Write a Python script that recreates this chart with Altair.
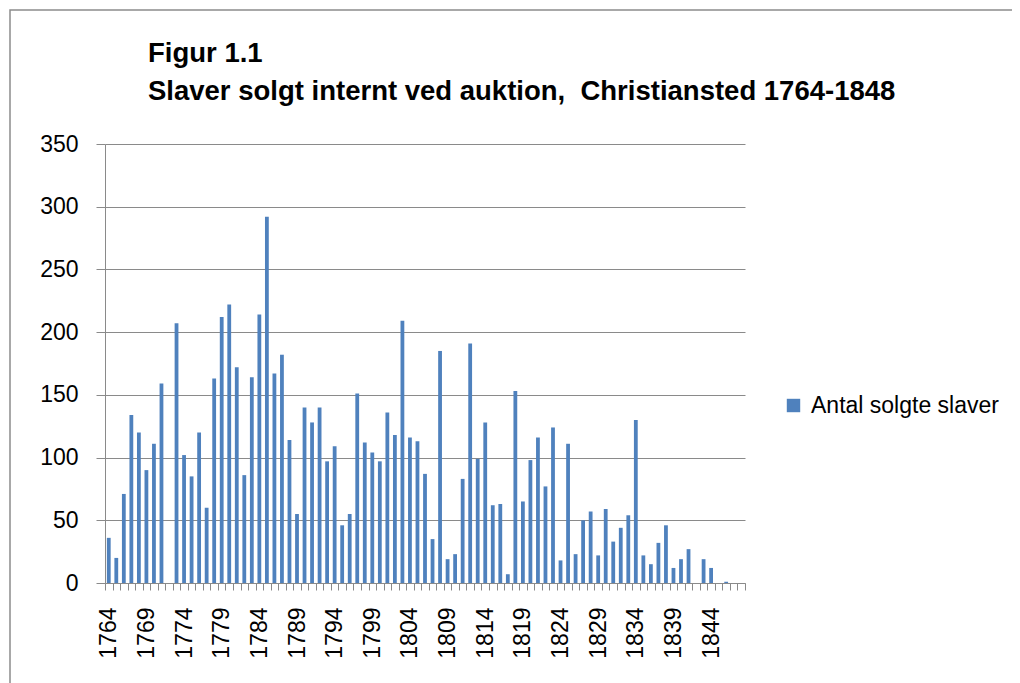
import altair as alt
import pandas as pd

years = list(range(1764, 1849))
values = [
    36, 20, 71, 134, 120, 90, 111, 159, 0, 207,      # 1764-1773
    102, 85, 120, 60, 163, 212, 222, 172, 86, 164,   # 1774-1783
    214, 292, 167, 182, 114, 55, 140, 128, 140, 97,  # 1784-1793
    109, 46, 55, 151, 112, 104, 97, 136, 118, 209,   # 1794-1803
    116, 113, 87, 35, 185, 19, 23, 83, 191, 99,      # 1804-1813
    128, 62, 63, 7, 153, 65, 98, 116, 77, 124,       # 1814-1823
    18, 111, 23, 50, 57, 22, 59, 33, 44, 54,         # 1824-1833
    130, 22, 15, 32, 46, 12, 19, 27, 0, 19,          # 1834-1843
    12, 0, 1, 0, 0,                                  # 1844-1848
]
series_name = "Antal solgte slaver"
title_line1 = "Figur 1.1"
title_line2 = "Slaver solgt internt ved auktion,\u00a0 Christiansted 1764-1848"
y_ticks = [0, 50, 100, 150, 200, 250, 300, 350]

df = pd.DataFrame({"year": years, "value": values, "series": series_name})

AXIS_FONT = "Liberation Sans"
GRID = "#8a8a8a"

bars = alt.Chart(df).mark_bar(size=3.8).encode(
    x=alt.X(
        "year:O",
        scale=alt.Scale(domain=years, paddingInner=0, paddingOuter=0),
        axis=alt.Axis(
            title=None,
            tickBand="extent",
            labelAngle=270,
            labelExpr="(toNumber(datum.value) - 1764) % 5 == 0 ? datum.value : ''",
            labelFont=AXIS_FONT,
            labelFontSize=23,
            labelColor="#000000",
            labelPadding=17,
            tickSize=7,
            tickColor=GRID,
            domainColor=GRID,
            labelOverlap=False,
            grid=False,
        ),
    ),
    y=alt.Y(
        "value:Q",
        scale=alt.Scale(domain=[0, 350], nice=False),
        axis=alt.Axis(
            title=None,
            values=y_ticks,
            labelFont=AXIS_FONT,
            labelFontSize=23,
            labelColor="#000000",
            labelPadding=18,
            tickSize=9,
            tickColor=GRID,
            domainColor=GRID,
            gridColor=GRID,
            gridWidth=1,
        ),
    ),
    color=alt.Color(
        "series:N",
        scale=alt.Scale(range=["#4F81BD"]),
        legend=alt.Legend(
            title=None,
            orient="none",
            legendX=677,
            legendY=250,
            symbolType="square",
            symbolSize=180,
            symbolStrokeWidth=0,
            labelFont=AXIS_FONT,
            labelFontSize=23,
            labelColor="#000000",
            labelOffset=6,
            labelLimit=400,
        ),
    ),
)

border = alt.Chart(pd.DataFrame({"a": [0]})).mark_rect(
    fill=None, stroke="#8c8c8c", strokeWidth=1.5, clip=False
).encode(
    x=alt.value(-95), x2=alt.value(910), y=alt.value(-134), y2=alt.value(570)
)

title_style = dict(
    align="left", baseline="alphabetic", font="Liberation Sans",
    fontSize=27.5, fontWeight="bold", color="#000000", clip=False,
)
t1 = alt.Chart(pd.DataFrame({"t": [title_line1]})).mark_text(**title_style).encode(
    x=alt.value(43), y=alt.value(-82), text="t:N"
)
t2 = alt.Chart(pd.DataFrame({"t": [title_line2]})).mark_text(**title_style).encode(
    x=alt.value(43), y=alt.value(-44), text="t:N"
)

chart = alt.layer(border, t1, t2, bars).properties(
    width=640,
    height=439,
    autosize=alt.AutoSizeParams(type="none"),
    padding={"left": 97, "top": 136, "right": 267, "bottom": 100},
).configure_view(stroke=None)

chart.save("out.html", embed_options={"renderer": "svg", "actions": False})
